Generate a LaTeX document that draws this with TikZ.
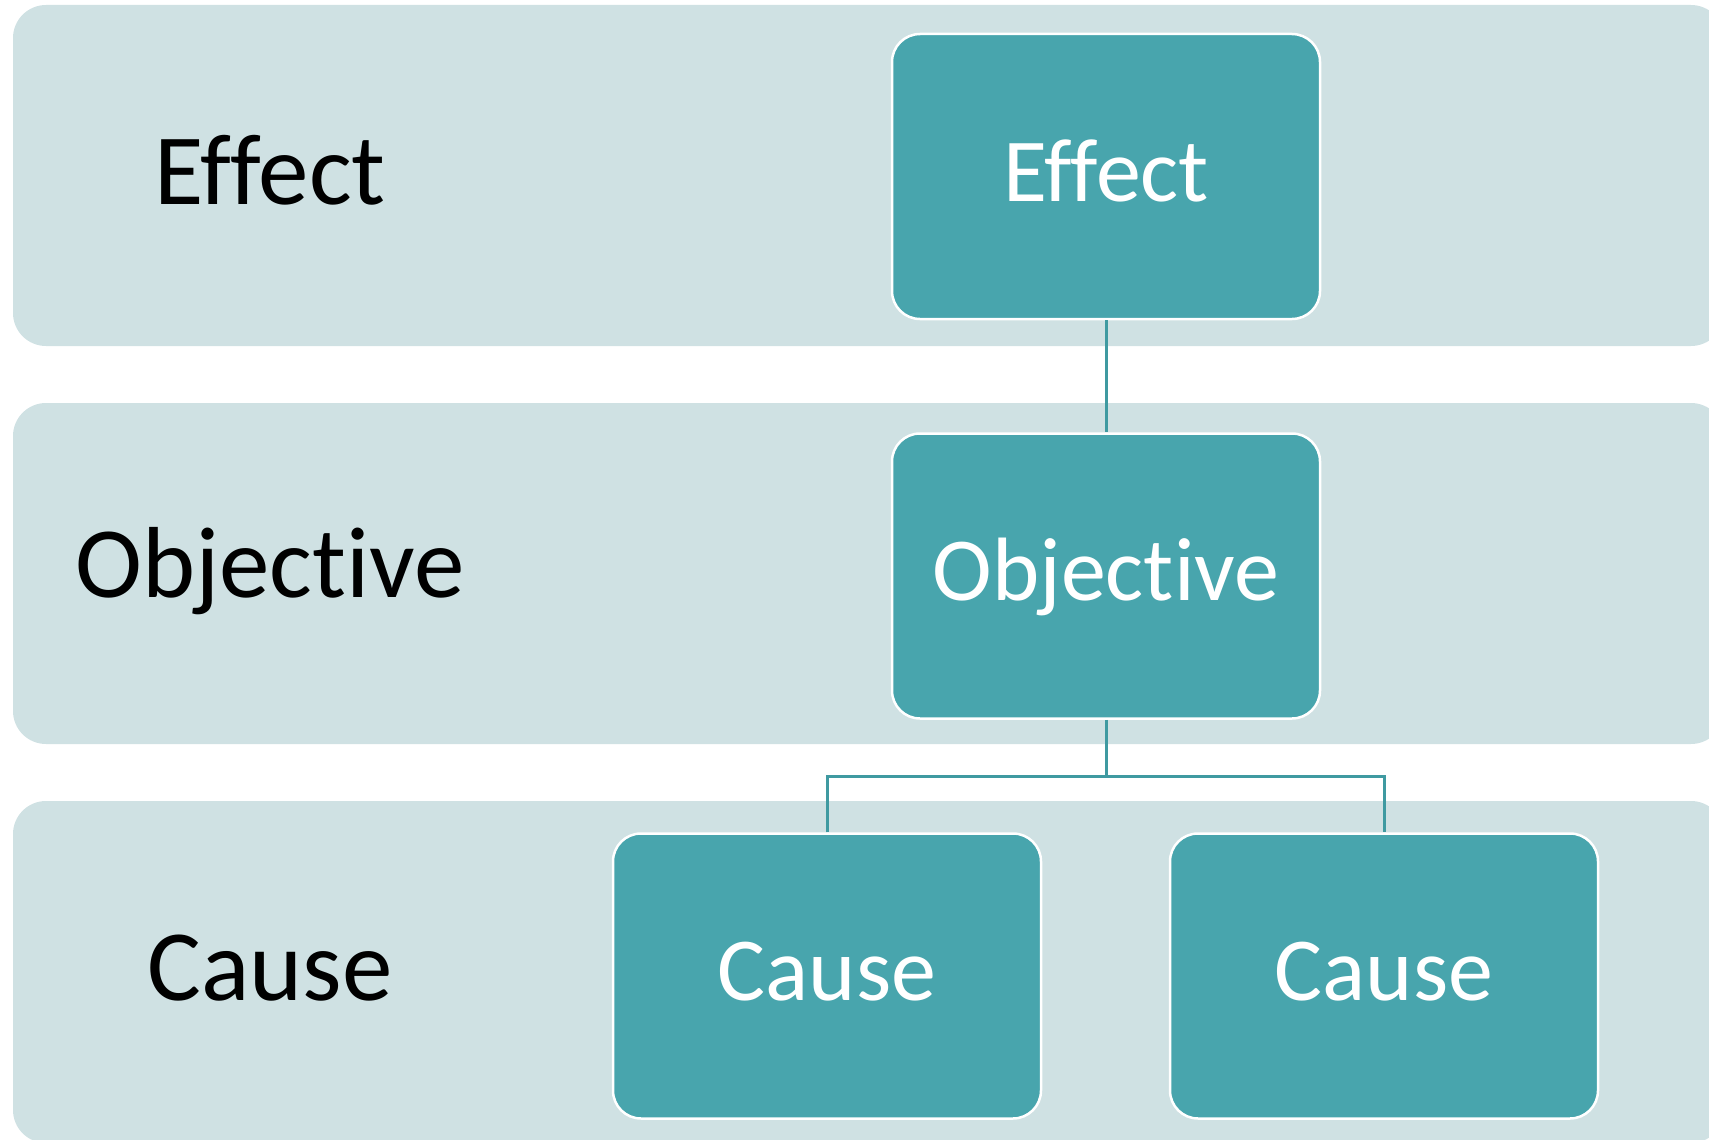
\documentclass[tikz,border=0pt]{standalone}
\usepackage{fontspec}
\setmainfont{Carlito}[Ligatures={NoCommon,NoRare}]
\definecolor{bandc}{HTML}{CFE1E3}
\definecolor{boxteal}{HTML}{48A5AD}
\definecolor{linkc}{HTML}{3F9AA1}
\begin{document}
\begin{tikzpicture}[x=1pt,y=-1pt,
  bandstyle/.style={fill=bandc, draw=none, rounded corners=33pt},
  boxnode/.style={draw=white, line width=2.5pt, fill=boxteal, rounded corners=28pt,
    minimum width=428pt, minimum height=285pt, inner sep=0pt, text=white,
    font=\fontsize{90}{100}\selectfont, text height=58pt, text depth=9pt},
  lbl/.style={anchor=base, inner sep=0pt, text=black, font=\fontsize{101}{110}\selectfont},
  linkline/.style={draw=linkc, line width=3pt}]
\useasboundingbox (0,0) rectangle (1709,1140);
% bands
\path[bandstyle] (13,5) rectangle (1724,346);
\path[bandstyle] (13,403) rectangle (1724,744);
\path[bandstyle] (13,801) rectangle (1724,1143);
% left labels
\node[lbl] (leffect) at (270,204) {Effect};
\node[lbl] (lobjective) at (270,597) {Objective};
\node[lbl] (lcause) at (270,1000) {Cause};
% boxes
\node[boxnode] (effect) at (1106,176.5) {Effect};
\node[boxnode] (objective) at (1106,576) {Objective};
\node[boxnode] (cause1) at (827,976) {Cause};
\node[boxnode] (cause2) at (1384,976) {Cause};
% connectors
\coordinate (split) at (1106,776);
\draw[linkline] (effect.south) -- (objective.north);
\draw[linkline] (objective.south) -- (split);
\draw[linkline] (cause1.north) |- (split) -| (cause2.north);
\end{tikzpicture}
\end{document}
